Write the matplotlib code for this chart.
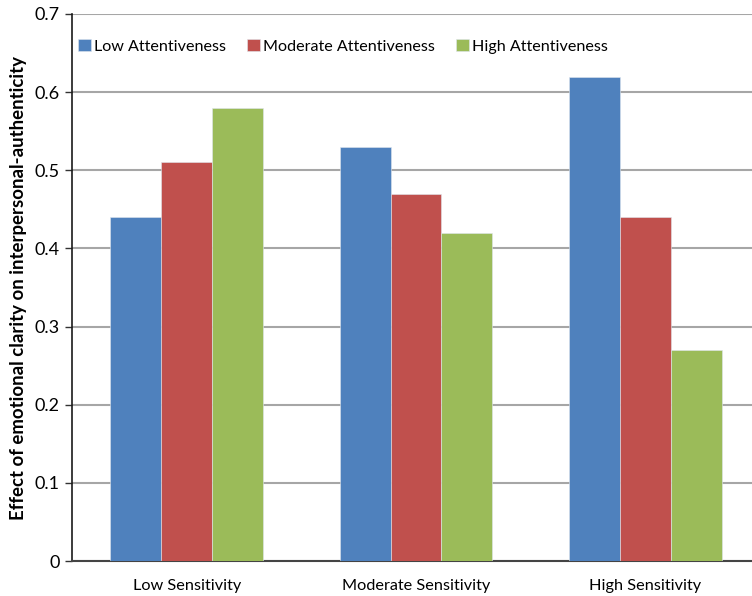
import numpy as np
import matplotlib.pyplot as plt

plt.rcParams['font.family'] = ['Lato', 'DejaVu Sans']

groups = ['Low Sensitivity', 'Moderate Sensitivity', 'High Sensitivity']
series = ['Low Attentiveness', 'Moderate Attentiveness', 'High Attentiveness']
low_att = [0.44, 0.53, 0.62]
mod_att = [0.51, 0.47, 0.44]
high_att = [0.58, 0.42, 0.27]
colors = ['#4F81BD', '#C0504D', '#9BBB59']

fig = plt.figure(figsize=(7.52, 5.96), dpi=100)
ax = fig.add_axes([72 / 752, 1 - 561 / 596, 688 / 752, (561 - 14) / 596])

x = np.arange(len(groups))
w = 0.222
for i, (vals, name) in enumerate(zip([low_att, mod_att, high_att], series)):
    ax.bar(x + (i - 1) * w, vals, w, color=colors[i], label=name,
           edgecolor='#dfe6ee', linewidth=0.4, zorder=3)

ax.set_xlim(-0.5, 2.5)
ax.set_ylim(0, 0.7)
ax.set_yticks(np.arange(0, 0.71, 0.1))
ax.set_yticklabels(['0', '0.1', '0.2', '0.3', '0.4', '0.5', '0.6', '0.7'], fontsize=13)
ax.set_xticks(x)
ax.set_xticklabels(groups, fontsize=11.7)
ax.tick_params(axis='x', length=0, pad=13)
ax.tick_params(axis='y', length=5, width=1, color='#333333', pad=4)
ax.yaxis.grid(True, color='#a6a6a6', linewidth=1.5, zorder=0)
for s in ['top', 'right']:
    ax.spines[s].set_visible(False)
ax.spines['left'].set_color('#1a1a1a')
ax.spines['left'].set_linewidth(1.2)
ax.spines['bottom'].set_color('#444444')
ax.spines['bottom'].set_linewidth(1.5)

ax.set_ylabel('Effect of emotional clarity on interpersonal-authenticity',
              fontsize=13.4, fontweight='bold', labelpad=5)

ax.legend(loc='upper left', bbox_to_anchor=(-0.008, 0.975), ncol=3, frameon=False,
          fontsize=11.6, handlelength=0.8, handleheight=0.8, handletextpad=0.2,
          columnspacing=1.3, borderaxespad=0.3)

fig.savefig('out.png', dpi=100)
